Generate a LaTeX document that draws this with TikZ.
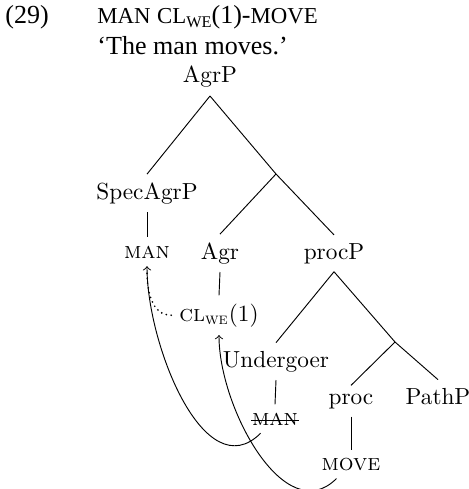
\documentclass[tikz,border=0pt]{standalone}
\usepackage{fontspec}
\newfontfamily\hdrfont{Liberation Serif}
% fake small capitals for the Times-like header line
\newcommand{\hsc}[1]{{\fontsize{9.8}{11}\selectfont #1}}
\begin{document}
\begin{tikzpicture}[x=0.43pt,y=-0.43pt,
  lbl/.style={anchor=base, font=\fontsize{10}{12}\selectfont},
  hdr/.style={anchor=base west, inner sep=0pt, font=\hdrfont\fontsize{11.2}{13}\selectfont},
  branch/.style={line width=0.4pt},
  movement/.style={->, line width=0.4pt},
  trace/.style={line width=0.8pt, line cap=round, dash pattern=on 0pt off 2.1pt}]
\useasboundingbox (0,0) rectangle (469,489);

% example number, gloss line and translation
\node[hdr] (num) at (5,24) {(29)};
\node[hdr] (gloss) at (97,24) {\hsc{MAN} \hsc{CL}\raisebox{-1.6pt}{\fontsize{7}{8}\selectfont WE}(1)-\hsc{MOVE}};
\node[hdr] (trans) at (97,55) {‘The man moves.’};

% tree labels
\node[lbl] (agrp)  at (210,83)  {AgrP};
\node[lbl] (spec)  at (147,199) {SpecAgrP};
\node[lbl] (man)   at (147,258) {\textsc{man}};
\node[lbl] (agr)   at (220,259) {Agr};
\node[lbl] (procp) at (334,259) {procP};
\node[lbl] (cl)    at (219,321) {\textsc{cl}\textsubscript{\textsc{we}}(1)};
\node[lbl] (und)   at (276,367) {Undergoer};
\node[lbl] (proc)  at (351,404) {proc};
\node[lbl] (pathp) at (438,404) {PathP};
\node[lbl] (cm)    at (275,425) {\textsc{man}};
\node[lbl] (mv)    at (351,470) {\textsc{move}};
\coordinate (b1) at (276,174);
\coordinate (b2) at (395,342);

% branches
\draw[branch] (agrp.south) -- (spec.north);
\draw[branch] (agrp.south) -- (b1);
\draw[branch] (b1) -- (agr.north);
\draw[branch] (b1) -- (procp.north);
\draw[branch] (spec.south) -- (man.north);
\draw[branch] (agr.south) -- (cl.north);
\draw[branch] (procp.south) -- (und.north);
\draw[branch] (procp.south) -- (b2);
\draw[branch] (b2) -- (proc.north);
\draw[branch] (b2) -- (pathp.north);
\draw[branch] (und.south) -- (cm.north);
\draw[branch] (proc.south) -- (mv.north);

% struck-out lower copy
\draw[branch] ([xshift=3pt,yshift=-0.6pt]cm.west) -- ([xshift=-3pt,yshift=-0.6pt]cm.east);

% movement arrows; the dotted link shares the tip of the solid arrow
\draw[movement] (cm) to[out=-135,in=-90] (man);
\draw[movement] (mv) to[out=-135,in=-90] (cl);
\draw[trace] (cl) to[out=180,in=-90] ([yshift=-2pt]man.south);
\end{tikzpicture}
\end{document}
